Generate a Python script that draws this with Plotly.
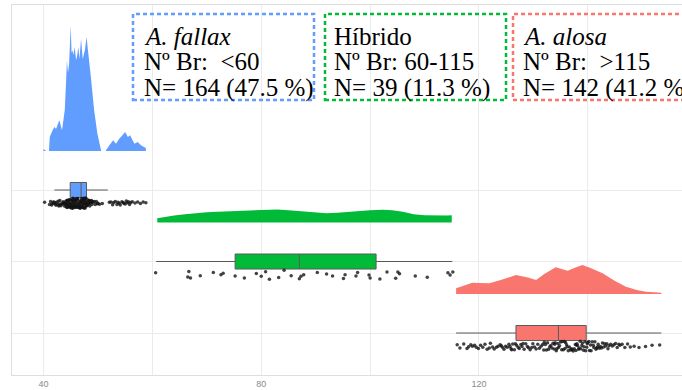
import plotly.graph_objects as go

# ---------------- data ----------------
groups = ["A. fallax", "Híbrido", "A. alosa"]
group_pos = [3, 2, 1]
colors = ["#619CFF", "#00BA38", "#F8766D"]

# raw observations (number of gill rakers, jittered positions as read)
fallax_vals = [40.2,
    41.1, 41.3, 41.5, 41.6, 41.8, 41.9, 42.0, 42.2,
    42.3, 42.4, 42.6, 42.7, 42.8, 42.9, 43.0,
    43.1, 43.2, 43.4, 43.5, 43.6, 43.7, 43.8, 43.9,
    44.0, 44.1, 44.1, 44.2, 44.3, 44.3, 44.4, 44.5, 44.5, 44.6, 44.6, 44.7, 44.7, 44.8, 44.8, 44.9, 44.9, 45.0, 45.0, 44.2, 44.4,
    45.0, 45.1, 45.1, 45.2, 45.2, 45.3, 45.3, 45.4, 45.4, 45.5, 45.5, 45.6, 45.6, 45.7, 45.7, 45.8, 45.8, 45.9, 45.9, 46.0, 45.2, 45.4, 45.6, 45.8,
    46.0, 46.1, 46.1, 46.2, 46.2, 46.3, 46.3, 46.4, 46.4, 46.5, 46.5, 46.6, 46.6, 46.7, 46.7, 46.8, 46.8, 46.9, 46.9, 47.0, 46.2, 46.5, 46.8, 46.9,
    47.0, 47.1, 47.1, 47.2, 47.2, 47.3, 47.3, 47.4, 47.4, 47.5, 47.5, 47.6, 47.6, 47.7, 47.7, 47.8, 47.8, 47.9, 47.9, 48.0, 47.3, 47.5, 47.7, 47.9,
    48.0, 48.1, 48.2, 48.3, 48.3, 48.4, 48.5, 48.5, 48.6, 48.7, 48.8, 48.8, 48.9, 49.0, 48.4,
    49.1, 49.3, 49.5, 49.7, 49.9, 50.0,
    50.3, 50.8,
    52.1, 52.4, 52.7, 52.9,
    53.2, 53.5, 53.7, 53.9,
    54.1, 54.4, 54.6, 54.8, 55.0,
    55.2, 55.4, 55.6, 55.8, 56.0,
    56.3, 56.8, 57.3, 57.8, 58.3, 58.8]

hibrido_vals = [60.6, 66.5, 66.7, 67.0, 68.8, 71.2, 72.6, 73.0, 75.2, 76.9, 79.1, 80.0,
    80.8, 81.5, 83.2, 84.2, 85.5, 87.0, 87.3, 87.8, 90.3, 92.0, 93.1, 95.1, 95.4,
    97.4, 97.7, 99.8, 100.0, 101.8, 103.1, 104.7, 105.1, 105.4, 108.3, 110.5,
    114.3, 114.7, 115.2]

alosa_vals = [116.0, 116.5, 117.2, 117.8,
    118.1, 118.5, 118.8, 119.2, 119.5, 119.9,
    120.3, 120.7, 121.1, 121.5, 121.9,
    122.1, 122.5, 122.8, 123.2, 123.5, 123.9,
    124.1, 124.3, 124.6, 124.9, 125.2, 125.5, 125.7, 125.9,
    126.0, 126.2, 126.5, 126.7, 126.9, 127.2, 127.4, 127.7, 127.9,
    128.1, 128.3, 128.6, 128.9, 129.1, 129.4, 129.7, 129.9,
    130.2, 130.5, 130.8, 131.1, 131.4, 131.7, 131.9,
    132.0, 132.2, 132.4, 132.6, 132.8, 133.0, 133.2, 133.4, 133.6, 133.8, 133.9,
    134.0, 134.2, 134.3, 134.5, 134.6, 134.8, 135.0, 135.2, 135.3, 135.5, 135.7, 135.8, 135.9,
    136.1, 136.2, 136.4, 136.6, 136.8, 137.0, 137.1, 137.3, 137.5, 137.7, 137.8, 137.9,
    138.0, 138.1, 138.3, 138.4, 138.6, 138.7, 138.9, 139.0, 139.2, 139.3, 139.5, 139.6, 139.8, 139.9,
    140.0, 140.2, 140.3, 140.5, 140.6, 140.8, 141.0, 141.1, 141.3, 141.5, 141.6, 141.8, 141.9,
    142.1, 142.3, 142.5, 142.7, 142.9, 143.1, 143.3, 143.5, 143.7, 143.9,
    144.2, 144.5, 144.8, 145.1, 145.4, 145.7, 145.9,
    146.3, 146.8, 147.3, 147.8,
    148.5, 149.4, 150.6, 151.8, 153.2]

# box statistics (lower whisker, q1, median, q3, upper whisker)
fallax_box = [42.0, 44.9, 46.9, 47.9, 51.8]
hibrido_box = [60.7, 75.2, 87.0, 101.1, 115.1]
alosa_box = [115.8, 126.8, 134.6, 139.7, 153.5]

# density curves (x grid, relative density)
fallax_dx = [40.0, 40.3, 40.5, 41.0, 41.15, 41.6, 42.0, 42.3, 42.9, 43.4, 43.9, 44.15, 44.3, 44.5, 44.7,
             45.0, 45.15, 45.3, 45.5, 45.7, 46.0, 46.2, 46.4, 46.6, 46.9, 47.2, 47.6, 47.9, 48.3,
             48.7, 49.3, 49.9, 50.6, 51.4, 52.1, 52.8, 53.3, 53.9, 54.5, 55.0, 55.5, 55.9, 56.7,
             57.3, 57.9, 58.5, 58.8]
fallax_dy = [2, 1, 0, 0, 14, 20, 24, 22, 30.7, 20.7, 40.7, 70, 90.7, 78, 87,
             125.7, 98, 100.7, 96, 104, 90.7, 96, 104, 92, 112, 92, 100.7, 114, 90.7,
             74, 40.7, 17.3, 0, 0, 5.7, 10.7, 7.3, 12.3, 15.7, 19, 14, 15.7, 7.3,
             9, 5.7, 4, 3]

hibrido_dx = [60.9, 62, 64, 66, 68, 70, 72, 74, 76, 78, 80, 81.6, 83, 85, 87, 89, 91, 92,
              94, 96, 98, 100, 102.4, 104, 106, 108, 110, 112, 114, 115]
hibrido_dy = [4.3, 5.5, 7, 8.3, 9.5, 10.3, 10.9, 11.4, 11.9, 12.5, 13.0, 13.3, 13.0, 12.3,
              11.3, 10.3, 9.5, 9.3, 9.8, 10.7, 11.5, 12.2, 12.7, 12.2, 10.7, 8.3, 7.2, 6.8,
              7.1, 7.4]

alosa_dx = [115.8, 117, 118.8, 120, 121.9, 124, 126.8, 129, 130.5, 132, 134.1, 135.2, 136.3,
            137.5, 139.0, 140.5, 142.7, 145, 147.0, 149, 150.7, 153.5]
alosa_dy = [5.7, 8, 11.3, 11, 10.7, 14, 19, 16.5, 14, 20, 26.7, 25, 23.3, 26, 29, 26, 20.7,
            13, 7.3, 4, 2.3, 1.3]

x_ticks = [40, 60, 80, 100, 120, 140]
x_tick_labels = ["40", "", "80", "", "120", ""]

label_titles = ["<i>A. fallax</i>", "Híbrido", "<i>A. alosa</i>"]
label_ranges = ["Nº Br:\u00a0 <60", "Nº Br: 60-115", "Nº Br:\u00a0 >115"]
label_counts = ["N= 164 (47.5 %)", "N= 39 (11.3 %)", "N= 142 (41.2 %)"]

# ---------------- layout constants ----------------
W, H = 682, 390
PL, PT, PW, PH = 12, 5, 670, 370
DENS_OFFSET = 0.545
DENS_SCALE = 1 / 71.5
BOX_W = 0.21


def fx(px):
    return (px - PL) / PW


def fy(py):
    return (PT + PH - py) / PH


fig = go.Figure()

vals = [fallax_vals, hibrido_vals, alosa_vals]
boxes = [fallax_box, hibrido_box, alosa_box]
dens = [(fallax_dx, fallax_dy), (hibrido_dx, hibrido_dy), (alosa_dx, alosa_dy)]

for name, pos, col, v, b, (dx, dy) in zip(groups, group_pos, colors, vals, boxes, dens):
    base = pos + DENS_OFFSET
    xs = list(dx) + list(dx[::-1])
    ys = [base + d * DENS_SCALE for d in dy] + [base] * len(dx)
    fig.add_trace(go.Scatter(x=xs, y=ys, fill="toself", fillcolor=col, mode="lines",
                             line=dict(width=0, color=col), showlegend=False, hoverinfo="skip"))
    fig.add_trace(go.Box(y=[pos], lowerfence=[b[0]], q1=[b[1]], median=[b[2]], q3=[b[3]],
                         upperfence=[b[4]], orientation="h", width=BOX_W, fillcolor=col,
                         line=dict(color="#5a5a5a", width=1), whiskerwidth=0,
                         boxpoints=False, showlegend=False))
    fig.add_trace(go.Box(x=v, y=[pos] * len(v), orientation="h", width=BOX_W,
                         boxpoints="all", jitter=0.7, pointpos=-1.75,
                         fillcolor="rgba(0,0,0,0)", line=dict(color="rgba(0,0,0,0)", width=0),
                         whiskerwidth=0,
                         marker=dict(color="rgba(20,20,20,0.8)", size=3.5),
                         showlegend=False))

# label boxes
box_px = [(133, 314), (325, 506), (513, 700)]
text_px = [142, 332, 521]
line_y = [36, 62, 88]
for i, col in enumerate(colors):
    x0, x1 = box_px[i]
    fig.add_shape(type="rect", xref="paper", yref="paper", x0=fx(x0), x1=fx(x1),
                  y0=fy(100), y1=fy(14), line=dict(color=col, width=2.5, dash="4px,3px"),
                  fillcolor="rgba(255,255,255,0)")
    for j, t in enumerate([label_titles[i], label_ranges[i], label_counts[i]]):
        fig.add_annotation(xref="paper", yref="paper", x=fx(text_px[i]), y=fy(line_y[j]),
                           text=t, showarrow=False, xanchor="left", yanchor="middle",
                           font=dict(family="Liberation Serif", size=25, color="black"))

fig.update_layout(
    width=W, height=H,
    margin=dict(l=PL, r=W - PL - PW, t=PT, b=H - PT - PH),
    plot_bgcolor="white", paper_bgcolor="white",
    boxmode="overlay",
    xaxis=dict(range=[34.21, 157.3], tickvals=x_ticks, ticktext=x_tick_labels,
               showgrid=True, gridcolor="#ebebeb", gridwidth=1, zeroline=False,
               showline=True, linecolor="#dedede", linewidth=1, mirror=True,
               ticks="", ticklen=0,
               tickfont=dict(family="Liberation Sans", size=9, color="#8a8a8a")),
    yaxis=dict(range=[0.413, 5.587], tickvals=group_pos, showticklabels=False,
               showgrid=True, gridcolor="#ebebeb", gridwidth=1, zeroline=False,
               showline=True, linecolor="#dedede", linewidth=1, mirror=True, ticks=""),
)

fig.write_html("out.html", config={"displayModeBar": False},
               post_script="document.body.style.margin='0';document.body.style.overflow='hidden';")
